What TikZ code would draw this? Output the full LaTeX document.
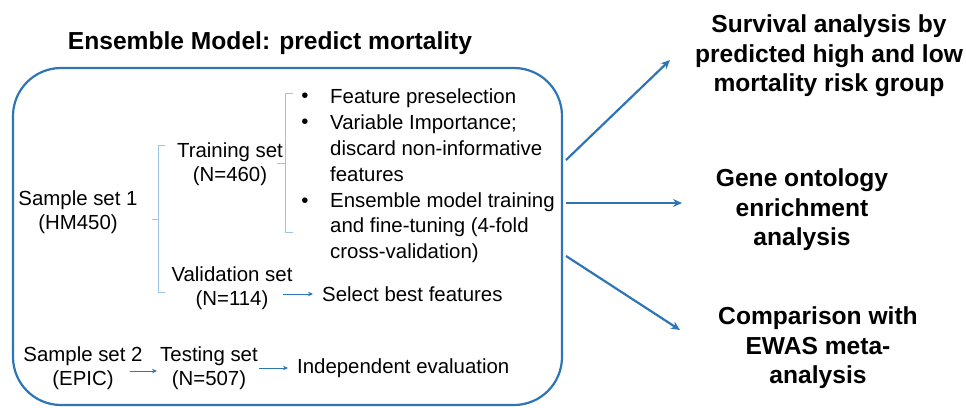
\documentclass[tikz,border=0pt]{standalone}
\usepackage{fontspec}
\setmainfont{Liberation Sans}
\usetikzlibrary{arrows.meta}

\definecolor{modelblue}{RGB}{46,117,182}
\definecolor{braceblue}{RGB}{157,195,230}

\tikzset{
  txt/.style={inner sep=0pt, align=center, font=\fontsize{20.4}{24}\selectfont},
  lst/.style={inner sep=0pt, align=left, font=\fontsize{20.4}{25.8}\selectfont},
  res/.style={inner sep=0pt, align=center, font=\fontsize{24.6}{29.5}\selectfont\bfseries},
  thinarrow/.style={modelblue, line width=0.8pt, -{Stealth[length=5pt,width=4.5pt]}},
  thickarrow/.style={modelblue, line width=2.2pt, -{Stealth[length=9pt,width=8pt]}},
  brace/.style={braceblue, line width=0.8pt},
}

\begin{document}
\begin{tikzpicture}[x=1pt,y=-1pt]
  \useasboundingbox (0,0) rectangle (966,407);

  \node[res] (title) at (270,43) {Ensemble Model: predict mortality};
  \draw[modelblue, line width=2.2pt, rounded corners=48pt] (13,68) rectangle (562,405);

  % sample sets
  \node[txt] (s1) at (78,212) {Sample set 1\\(HM450)};
  \node[txt] (train) at (230,164) {Training set\\(N=460)};
  \node[txt] (valid) at (232,288) {Validation set\\(N=114)};
  \node[txt] (s2) at (83,368) {Sample set 2\\(EPIC)};
  \node[txt] (test) at (209,368) {Testing set\\(N=507)};

  % brackets
  \draw[brace] (165,145) -- (158,145) -- (158,292) -- (165,292);
  \draw[brace] (158,219) -- (152,219);
  \draw[brace] (293,93) -- (285,93) -- (285,232) -- (293,232);
  \draw[brace] (285,163) -- (277,163);

  % training steps
  \foreach \y in {98,124,203}{
    \node[txt] at (305,\y) {\textbullet};
  }
  \node[lst, anchor=west] (steps) at (330,176) {Feature preselection\\Variable Importance;\\discard non-informative\\features\\Ensemble model training\\and fine-tuning (4-fold\\cross-validation)};

  \node[txt, anchor=west] (best) at (322,294) {Select best features};
  \node[txt, anchor=west] (indep) at (297,368) {Independent evaluation};

  \draw[thinarrow] ([xshift=-10pt]valid.east |- best.west) -- ([xshift=-9pt]best.west);
  \draw[thinarrow] ([xshift=-13pt]s2.east |- 0,371) -- ([xshift=-3pt]test.west |- 0,371);
  \draw[thinarrow] ([xshift=1pt]test.east |- indep.west) -- ([xshift=-9pt]indep.west);

  % follow-up analyses
  \node[res] (surv) at (829,56) {Survival analysis by\\predicted high and low\\mortality risk group};
  \node[res] (gene) at (802,210) {Gene ontology\\enrichment\\analysis};
  \node[res] (ewas) at (818,348) {Comparison with\\EWAS meta-\\analysis};

  \coordinate (a1) at (566,160);
  \coordinate (a2) at (566,203);
  \coordinate (a3) at (566,256);
  \coordinate (b1) at (670,60);
  \coordinate (b2) at (682,203);
  \coordinate (b3) at (680,330);
  \foreach \i in {1,2,3}{
    \draw[thickarrow] (a\i) -- (b\i);
  }
\end{tikzpicture}
\end{document}
